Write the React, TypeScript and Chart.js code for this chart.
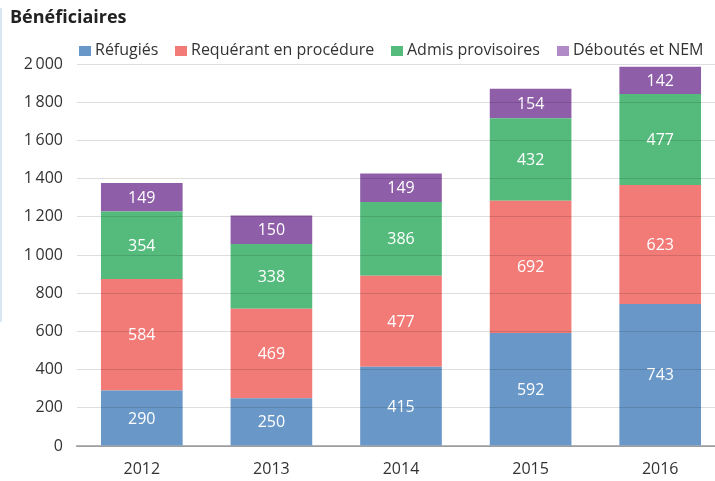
import React, { useEffect, useRef } from "react";
import { Chart, registerables } from "chart.js";

Chart.register(...registerables);

const categories = ["2012", "2013", "2014", "2015", "2016"];
const refugies = [290, 250, 415, 592, 743];
const requerants = [584, 469, 477, 692, 623];
const admis = [354, 338, 386, 432, 477];
const deboutes = [149, 150, 149, 154, 142];
const seriesNames = ["Réfugiés", "Requérant en procédure", "Admis provisoires", "Déboutés et NEM"];
const seriesColors = ["#6897c8", "#f27b78", "#55bb7d", "#8f5ea8"];
const legendColors = ["#6897c8", "#f27b78", "#55bb7d", "#b08ac6"];
const yTicks = [0, 200, 400, 600, 800, 1000, 1200, 1400, 1600, 1800, 2000];
const chartTitle = "Bénéficiaires";

const FONT = "'Open Sans', 'Noto Sans', sans-serif";
const legendX = [79, 175, 391, 557];

const fmt = (v: number) => {
  const s = String(v);
  if (v >= 1000) return s.slice(0, s.length - 3) + "\u2009" + s.slice(s.length - 3);
  return s;
};

const valueLabels = {
  id: "valueLabels",
  afterDatasetsDraw(chart: any) {
    const ctx = chart.ctx;
    ctx.save();
    ctx.fillStyle = "#ffffff";
    ctx.font = `16px ${FONT}`;
    ctx.textAlign = "center";
    ctx.textBaseline = "middle";
    chart.data.datasets.forEach((ds: any, di: number) => {
      const meta = chart.getDatasetMeta(di);
      meta.data.forEach((bar: any, i: number) => {
        const y = (bar.y + bar.base) / 2;
        ctx.fillText(String(ds.data[i]), bar.x, y + 1);
      });
    });
    ctx.restore();
  },
};

const headerPlugin = {
  id: "header",
  afterDraw(chart: any) {
    const ctx = chart.ctx;
    ctx.save();
    ctx.fillStyle = "#222";
    ctx.font = `bold 18px ${FONT}`;
    ctx.textAlign = "left";
    ctx.textBaseline = "middle";
    ctx.fillText(chartTitle, 10, 18);
    ctx.font = `16px ${FONT}`;
    chart.data.datasets.forEach((ds: any, i: number) => {
      const x = legendX[i];
      ctx.fillStyle = legendColors[i];
      ctx.fillRect(x, 46, 12, 10);
      ctx.fillStyle = "#333";
      ctx.fillText(ds.label, x + 16, 50);
    });
    ctx.restore();
  },
};

export default function App() {
  const ref = useRef<HTMLCanvasElement | null>(null);
  useEffect(() => {
    if (!ref.current) return;
    const data = [refugies, requerants, admis, deboutes];
    const chart = new Chart(ref.current, {
      type: "bar",
      data: {
        labels: categories,
        datasets: seriesNames.map((name, i) => ({
          label: name,
          data: data[i],
          backgroundColor: seriesColors[i],
          borderWidth: 0,
          categoryPercentage: 0.63,
          barPercentage: 1,
        })),
      },
      options: {
        responsive: false,
        animation: false,
        layout: { padding: { left: 10, right: 0, top: 64, bottom: 0 } },
        plugins: {
          title: { display: false },
          legend: { display: false },
          tooltip: { enabled: false },
        },
        scales: {
          x: {
            stacked: true,
            afterFit: (s: any) => {
              s.height = 35;
            },
            grid: { display: false, drawTicks: false },
            border: { display: true, color: "#b5b5b5", width: 2 },
            ticks: { color: "#333", font: { family: FONT, size: 16 }, padding: 14 },
          },
          y: {
            stacked: true,
            min: 0,
            max: 2000,
            afterFit: (s: any) => {
              s.width = 67;
            },
            afterBuildTicks: (s: any) => {
              s.ticks = yTicks.map((v) => ({ value: v }));
            },
            grid: { color: "rgba(0,0,0,0.13)", drawTicks: false, z: 1 },
            border: { display: false },
            ticks: {
              color: "#333",
              font: { family: FONT, size: 16 },
              padding: 14,
              callback: (v: any) => fmt(Number(v)),
            },
          },
        },
      },
      plugins: [valueLabels, headerPlugin],
    });
    return () => chart.destroy();
  }, []);
  return (
    <div
      style={{
        position: "fixed",
        left: 0,
        top: 0,
        width: 715,
        height: 481,
        overflow: "hidden",
        background: "#fff",
      }}
    >
      <canvas ref={ref} width={725} height={481} style={{ display: "block" }} />
      <div
        style={{
          position: "absolute",
          left: 0,
          top: 8,
          width: 2,
          height: 314,
          background: "#d9e7f3",
        }}
      />
    </div>
  );
}
